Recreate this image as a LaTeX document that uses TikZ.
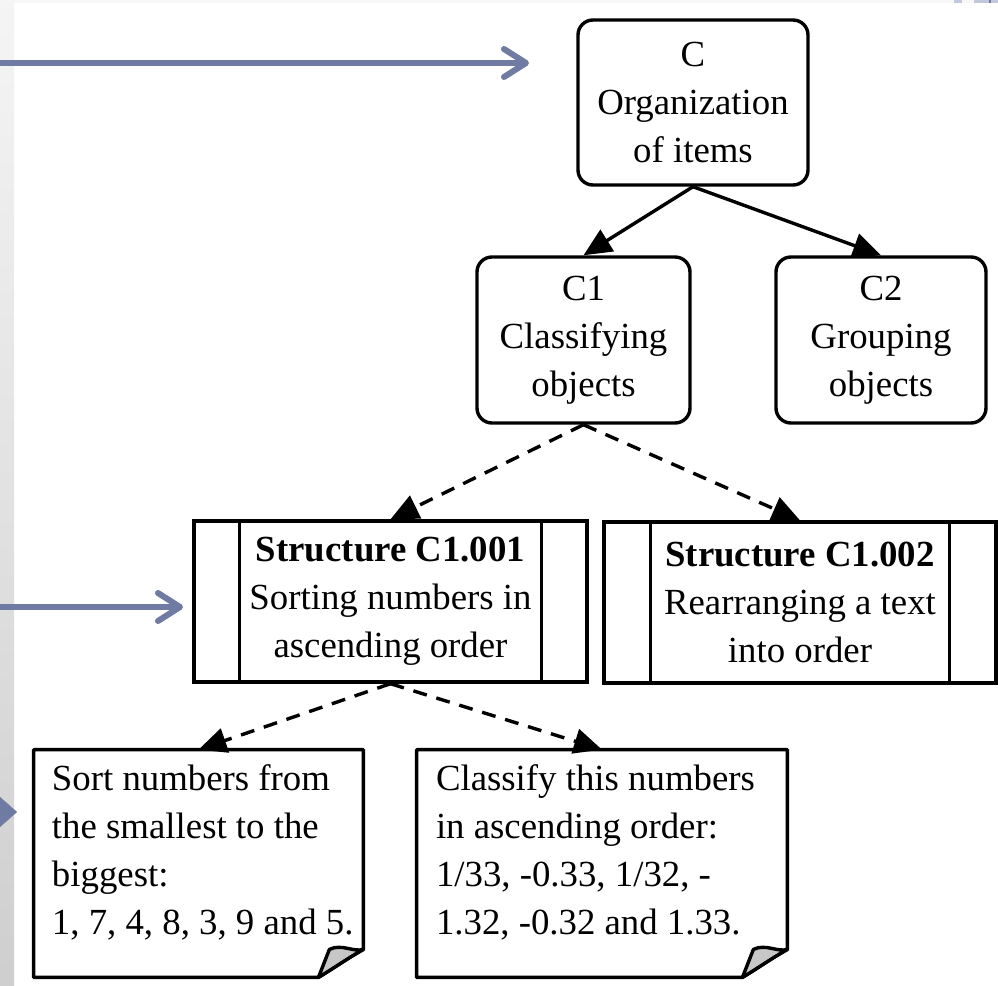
\documentclass[tikz,border=0pt]{standalone}
\usepackage{fontspec}
\setmainfont{Liberation Serif}
\usetikzlibrary{arrows.meta,calc}
\definecolor{bluearrow}{RGB}{112,123,163}
\definecolor{edgebit}{RGB}{195,199,219}
\newcommand{\notefold}[1]{%
  \draw[line width=1.7pt, line join=round]
    (#1.north west) -- (#1.north east) -- ($(#1.south east)+(0,-28)$)
    .. controls ($(#1.south east)+(-16,-19)$) and ($(#1.south east)+(-30,-9)$) .. ($(#1.south east)+(-45,0)$)
    -- (#1.south west) -- cycle;
  \filldraw[fill=black!22, line width=1.7pt, line join=round]
    ($(#1.south east)+(-45,0)$) -- ($(#1.south east)+(-34,-28)$)
    .. controls ($(#1.south east)+(-22,-34)$) and ($(#1.south east)+(-10,-25)$) .. ($(#1.south east)+(0,-28)$)
    .. controls ($(#1.south east)+(-16,-19)$) and ($(#1.south east)+(-30,-9)$) .. cycle;
}
\begin{document}
\begin{tikzpicture}[x=0.5pt,y=-0.5pt,
  font=\fontsize{18.4}{24}\selectfont,
  roundbox/.style={draw, line width=1.7pt, rounded corners=7.5pt, align=center, inner sep=0pt},
  structbox/.style={draw, line width=1.7pt, align=center, inner sep=0pt, minimum height=80.5pt},
  notearea/.style={inner sep=0pt, minimum height=113.5pt},
  notetext/.style={align=left, inner sep=0pt, anchor=north west},
  link/.style={line width=1.7pt, -{Triangle[length=14pt,width=12.5pt]}},
  dlink/.style={link, dash pattern=on 7pt off 5pt},
  bluearr/.style={draw=bluearrow, line width=3pt, line cap=round,
    -{Straight Barb[length=11pt,width=14pt,line cap=round,line join=round]}}
]
\useasboundingbox (0,0) rectangle (998,986);
\fill[white] (0,0) rectangle (998,986);
\fill[black!3] (14,0) rectangle (998,3);
\shade[top color=black!4, bottom color=black!19] (0,0) rectangle (14,986);
\fill[edgebit] (954,0) rectangle (962,3);
\fill[edgebit] (974,0) rectangle (998,3);
\fill[bluearrow] (989,0) rectangle (991,3);

% nodes
\node[roundbox, minimum width=115pt, minimum height=82.5pt] (C) at (693,102.5) {C\\Organization\\of items};
\node[roundbox, minimum width=106.5pt, minimum height=83pt] (C1) at (583.5,340) {C1\\Classifying\\objects};
\node[roundbox, minimum width=105pt, minimum height=83pt] (C2) at (881,340) {C2\\Grouping\\objects};
\node[structbox, minimum width=196.5pt] (S1) at (390.5,601.5) {\textbf{Structure C1.001}\\Sorting numbers in\\ascending order};
\node[structbox, minimum width=196pt] (S2) at (800,602.5) {\textbf{Structure C1.002}\\Rearranging a text\\into order};
\draw[line width=1.7pt] ([xshift=23.5pt]S1.north west) -- ([xshift=23.5pt]S1.south west);
\draw[line width=1.7pt] ([xshift=-23.5pt]S1.north east) -- ([xshift=-23.5pt]S1.south east);
\draw[line width=1.7pt] ([xshift=24pt]S2.north west) -- ([xshift=24pt]S2.south west);
\draw[line width=1.7pt] ([xshift=-24pt]S2.north east) -- ([xshift=-24pt]S2.south east);

\node[notearea, minimum width=164.5pt] (N1) at (198.5,863.5) {};
\node[notearea, minimum width=185pt] (N2) at (602,863.5) {};
\notefold{N1}
\notefold{N2}
\node[notetext] (N1t) at ($(N1.north west)+(18,15)$) {Sort numbers from\\the smallest to the\\biggest:\\1, 7, 4, 8, 3, 9 and 5.};
\node[notetext] (N2t) at ($(N2.north west)+(19,15)$) {Classify this numbers\\in ascending order:\\1/33, -0.33, 1/32, -\\1.32, -0.32 and 1.33.};

% connectors
\draw[link] (C.south) -- (C1.north);
\draw[link] (C.south) -- (C2.north);
\draw[dlink] (C1.south) -- (S1.north);
\draw[dlink] (C1.south) -- (S2.north);
\draw[dlink] (S1.south) -- (N1.north);
\draw[dlink] (S1.south) -- (N2.north);

% blue arrows from the left
\coordinate (b1s) at (0,63);
\coordinate (b1e) at (529,63);
\coordinate (b2s) at (0,607);
\coordinate (b2e) at (183,607);
\coordinate (b3s) at (0,812);
\coordinate (b3e) at (17,812);
\draw[bluearr] (b1s) -- (b1e);
\draw[bluearr] (b2s) -- (b2e);
\draw[bluearrow, line width=0.1pt, -{Triangle[length=8.5pt,width=15pt]}] (b3s) -- (b3e);
\end{tikzpicture}
\end{document}
